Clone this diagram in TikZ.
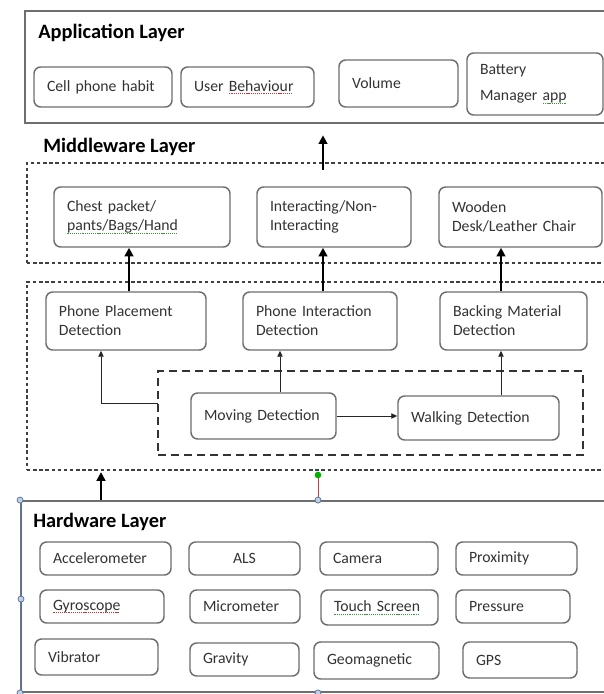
\documentclass[tikz,border=0pt]{standalone}
\usepackage{fontspec}
\setmainfont{Carlito}
\usetikzlibrary{arrows.meta}
\definecolor{boxgray}{HTML}{6E6E6E}
\definecolor{txtgray}{HTML}{333333}
\definecolor{sqred}{HTML}{D03030}
\definecolor{sqgreen}{HTML}{3A9A3A}
\definecolor{hblue}{HTML}{5A78A8}
\newsavebox\sqbox
\newcommand\squig[2]{\sbox\sqbox{#2}\leavevmode\rlap{\textcolor{#1}{\raisebox{-2.2pt}{\hbox to \wd\sqbox{\leaders\hbox to 1.6pt{\hss\rule{0.9pt}{0.5pt}\hss}\hfill}}}}\usebox\sqbox}
\newcommand\sqr[1]{\squig{sqred}{#1}}
\newcommand\sqg[1]{\squig{sqgreen}{#1}}
\newcommand\bx[7][]{%
  \pgfmathsetmacro\bxw{(#4-#2)*0.75}%
  \pgfmathsetmacro\bxh{(#5-#3)*0.75}%
  \pgfmathsetmacro\bxt{(#4-#2)*0.75-19.5}%
  \node[box,minimum width=\bxw pt,minimum height=\bxh pt,text width=\bxt pt,#1] (#6) at ({(#2+#4)/2},{(#3+#5)/2}) {#7};}
\newcommand\rct[6][]{%
  \pgfmathsetmacro\bxw{(#4-#2)*0.75}%
  \pgfmathsetmacro\bxh{(#5-#3)*0.75}%
  \node[inner sep=0pt,minimum width=\bxw pt,minimum height=\bxh pt,#1] (#6) at ({(#2+#4)/2},{(#3+#5)/2}) {};}
\begin{document}
\begin{tikzpicture}[x=0.75pt,y=-0.75pt,
  box/.style={draw=boxgray,fill=white,line width=1.1pt,rounded corners=5pt,inner sep=0pt,
    align=left,text=txtgray,font=\fontsize{11.8}{14.2}\selectfont},
  layertitle/.style={anchor=west,inner sep=0pt,font=\bfseries\fontsize{15.3}{17}\selectfont},
  applayer/.style={draw=boxgray,line width=1.4pt},
  dlayer/.style={draw=black!75,line width=0.8pt,dash pattern=on 2.6pt off 2pt},
  ilayer/.style={draw=black!80,line width=1.4pt,dash pattern=on 6pt off 3.8pt},
  bigarrow/.style={line width=2.2pt,-{Triangle[length=6.5pt,width=6.5pt]}},
  thinarrow/.style={line width=0.7pt,draw=black!85,-{Triangle[length=4.5pt,width=4pt]}},
  handle/.style={circle,inner sep=0pt,minimum size=4.5pt,fill=hblue!35,draw=hblue,line width=0.6pt}]
\useasboundingbox (0,0) rectangle (604,694);
\fill[white] (0,0) rectangle (604,694);

% Application layer
\rct[applayer]{25}{11}{640}{123}{app}
\node[layertitle] (tapp) at (38,33) {Application Layer};
\bx{34}{67}{172}{107}{cph}{Cell phone habit}
\bx{181}{67}{314}{107}{ub}{User \sqr{Behaviour}}
\bx{339}{60}{458}{107}{vol}{Volume}
\bx[font=\fontsize{11.8}{19}\selectfont]{467}{53}{603}{115}{bat}{Battery\\Manager \sqg{app}}

% Middleware layer
\node[layertitle] (tmw) at (43,147) {Middleware Layer};
\rct[dlayer]{27}{163}{640}{263}{mw}
\bx{54}{187}{230}{247}{chest}{Chest packet/\\\sqg{pants/Bags/Hand}}
\bx{257}{187}{411}{247}{inter}{Interacting/Non-\\Interacting}
\bx{439}{187}{602}{247}{wood}{Wooden\\Desk/Leather Chair}

\rct[dlayer]{27}{282}{640}{470}{det}
\bx{46}{292}{206}{350}{pp}{Phone Placement\\Detection}
\bx{243}{292}{397}{350}{pi}{Phone Interaction\\Detection}
\bx{440}{292}{587}{350}{bm}{Backing Material\\Detection}
\rct[ilayer]{158}{371}{583}{455}{motion}
\bx{191}{393}{336}{439}{mv}{Moving Detection}
\bx{398}{396}{559}{440}{wk}{Walking Detection}

% Hardware layer
\rct[draw=boxgray,line width=1.4pt]{21}{501}{640}{692}{hw}
\draw[hblue,line width=0.8pt] (hw.north west) -- (hw.south west);
\node[layertitle] (thw) at (33,522) {Hardware Layer};
\bx{40}{542}{171}{575}{acc}{Accelerometer}
\bx[align=center]{189}{542}{300}{575}{als}{ALS}
\bx{320}{542}{438}{575}{cam}{Camera}
\bx{456}{542}{577}{575}{prox}{Proximity}
\bx{40}{590}{164}{623}{gyro}{\sqr{Gyroscope}}
\bx{190}{590}{300}{623}{micro}{Micrometer}
\bx{321}{590}{438}{625}{touch}{\sqg{Touch Screen}}
\bx{456}{590}{570}{623}{press}{Pressure}
\bx{35}{639}{158}{675}{vib}{Vibrator}
\bx{190}{643}{299}{676}{grav}{Gravity}
\bx{314}{642}{439}{679}{geo}{Geomagnetic}
\bx{463}{642}{577}{678}{gps}{GPS}

% connectors
\coordinate (ax0) at (101,0);
\coordinate (ax1) at (129,0);
\coordinate (ax2) at (323,0);
\coordinate (ax3) at (501,0);
\coordinate (axm) at (280,0);
\coordinate (mwup) at (323,170);
\coordinate (elb) at (158,403);
\draw[bigarrow,shorten >=8.5pt] (mwup) -- (app.south -| mwup);
\draw[bigarrow] (pp.north -| ax1) -- (chest.south -| ax1);
\draw[bigarrow] (pi.north -| ax2) -- (inter.south -| ax2);
\draw[bigarrow] (bm.north -| ax3) -- (wood.south -| ax3);
\draw[bigarrow,shorten >=1.2pt] (hw.north -| ax0) -- (det.south -| ax0);
\draw[thinarrow] (mv.north -| axm) -- (pi.south -| axm);
\draw[thinarrow] (wk.north -| ax3) -- (bm.south -| ax3);
\draw[thinarrow] (mv.east) -- (mv.east -| wk.west);
\draw[thinarrow] (elb) -- (ax0 |- elb) -- (pp.south -| ax0);

% selection handles
\coordinate (gtop) at (318,475);
\draw[red!50!gray,line width=0.5pt] (gtop) -- (hw.north -| gtop);
\node[circle,inner sep=0pt,minimum size=5pt,fill=green!70!black] (gh) at (gtop) {};
\node[handle] (h1) at (hw.north west) {};
\node[handle] (h2) at (hw.north -| gtop) {};
\node[handle] (h3) at (21,599) {};
\node[handle] (h4) at (hw.south west) {};
\node[handle] (h5) at (hw.south -| gtop) {};
\end{tikzpicture}
\end{document}
